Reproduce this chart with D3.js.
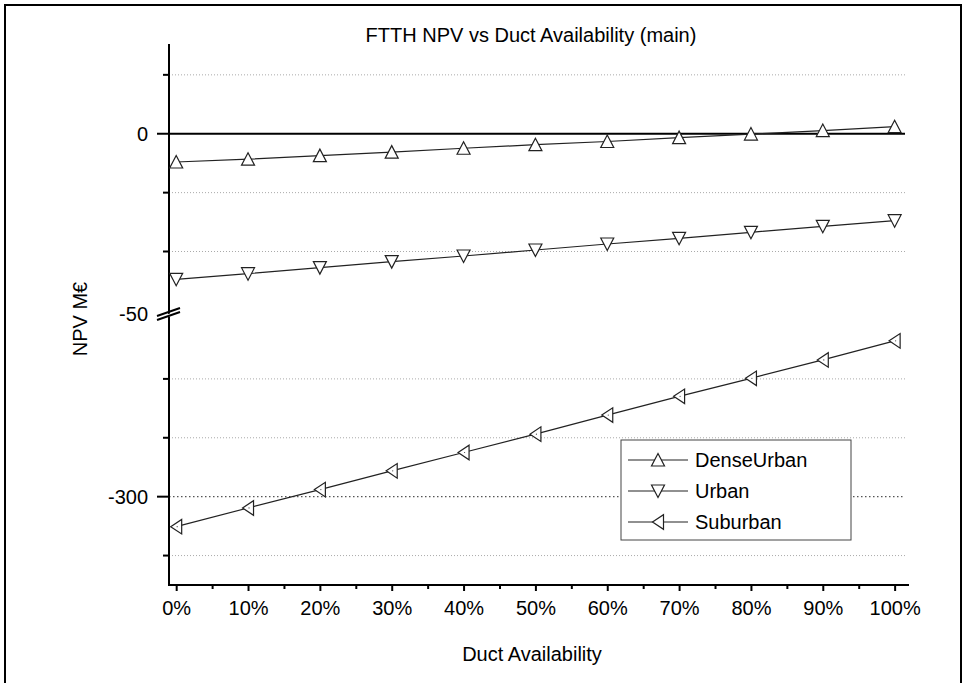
<!DOCTYPE html>
<html>
<head>
<meta charset="utf-8">
<script src="https://cdn.jsdelivr.net/npm/d3@7"></script>
<style>
  body { margin: 0; background: #fff; }
  svg text { font-family: Arial, "Liberation Sans", sans-serif; fill: #000; }
</style>
</head>
<body>
<svg id="chart" width="967" height="683"></svg>
<script>
const ductAvailability = [0, 10, 20, 30, 40, 50, 60, 70, 80, 90, 100]
const denseUrban = [-8.0, -7.2, -6.2, -5.2, -4.1, -3.1, -2.2, -1.1, -0.1, 0.9, 2.0]
const urban = [-41.2, -39.6, -37.9, -36.2, -34.6, -32.9, -31.2, -29.6, -27.9, -26.2, -24.6]
const suburban = [-308.5, -303.2, -298.0, -292.7, -287.5, -282.3, -276.9, -271.6, -266.5, -261.3, -255.9]
const seriesNames = ['DenseUrban', 'Urban', 'Suburban']
const xTickValues = [0, 10, 20, 30, 40, 50, 60, 70, 80, 90, 100]
const yMajorLabels = [0, -50, -300]
const topMinor = [16.67, -16.67, -33.33]
const bottomMinor = [-266.67, -283.33, -316.67]

const svg = d3.select('#chart')

// page frame
svg.append('rect')
  .attr('x', 5).attr('y', 5).attr('width', 956).attr('height', 700)
  .attr('fill', 'none').attr('stroke', '#000').attr('stroke-width', 2)

const axisLeft = 169
const axisRight = 909
const axisTop = 44
const axisBottom = 585
const gridRight = 905
const breakY = 314

const x = d3.scaleLinear().domain([-1, 102]).range([axisLeft, axisRight])
// broken y axis: two segments with the same scale
const yTop = d3.scaleLinear().domain([-50, 25.4]).range([310.4, axisTop])
const yBot = d3.scaleLinear().domain([-325, -250]).range([axisBottom, 320])
const y = (v) => v > -150 ? yTop(v) : yBot(v)

// grid lines
const grid = svg.append('g').attr('class', 'grid')
grid.selectAll('line.minor')
  .data(topMinor.map(yTop).concat(bottomMinor.map(yBot)))
  .join('line').attr('class', 'minor')
  .attr('x1', axisLeft).attr('x2', gridRight)
  .attr('y1', d => d).attr('y2', d => d)
  .attr('stroke', '#aaa').attr('stroke-width', 1).attr('stroke-dasharray', '1,2')
grid.append('line')
  .attr('x1', axisLeft).attr('x2', gridRight)
  .attr('y1', yBot(-300)).attr('y2', yBot(-300))
  .attr('stroke', '#555').attr('stroke-width', 1.3).attr('stroke-dasharray', '1.5,2.5')
grid.append('line')
  .attr('x1', axisLeft).attr('x2', gridRight)
  .attr('y1', yTop(0)).attr('y2', yTop(0))
  .attr('stroke', '#000').attr('stroke-width', 2)

// x axis
const xAxis = svg.append('g').attr('transform', `translate(0,${axisBottom})`)
xAxis.call(d3.axisBottom(x).tickValues(xTickValues).tickFormat(d => d + '%').tickSize(6).tickSizeOuter(0))
xAxis.select('.domain').remove()
xAxis.selectAll('.tick line').attr('stroke-width', 2)
xAxis.selectAll('.tick text').attr('font-size', 20).attr('dy', '1.05em')
const xMinor = svg.append('g').attr('transform', `translate(0,${axisBottom})`)
xMinor.call(d3.axisBottom(x).tickValues(d3.range(5, 100, 10)).tickFormat('').tickSize(4))
xMinor.select('.domain').remove()
xMinor.selectAll('.tick line').attr('stroke-width', 2)

svg.append('line')
  .attr('x1', axisLeft - 1).attr('x2', axisRight)
  .attr('y1', axisBottom).attr('y2', axisBottom)
  .attr('stroke', '#000').attr('stroke-width', 2)

// y axis
svg.append('line')
  .attr('x1', axisLeft).attr('x2', axisLeft)
  .attr('y1', axisTop).attr('y2', axisBottom)
  .attr('stroke', '#000').attr('stroke-width', 2)

const yTicks = svg.append('g').attr('class', 'yticks')
yTicks.selectAll('line.minor')
  .data(topMinor.map(yTop).concat(bottomMinor.map(yBot)))
  .join('line').attr('class', 'minor')
  .attr('x1', axisLeft - 6).attr('x2', axisLeft)
  .attr('y1', d => d).attr('y2', d => d)
  .attr('stroke', '#000').attr('stroke-width', 2)
yTicks.selectAll('line.major')
  .data([yTop(0), yBot(-300)])
  .join('line').attr('class', 'major')
  .attr('x1', axisLeft - 12).attr('x2', axisLeft)
  .attr('y1', d => d).attr('y2', d => d)
  .attr('stroke', '#000').attr('stroke-width', 2)
yTicks.selectAll('text')
  .data(yMajorLabels)
  .join('text')
  .attr('x', 148)
  .attr('y', d => d === -50 ? breakY : y(d))
  .attr('dy', '0.36em')
  .attr('text-anchor', 'end')
  .attr('font-size', 20)
  .text(d => d)

// axis break marks
const brk = svg.append('g')
brk.append('path')
  .attr('d', `M${axisLeft - 12},${breakY + 4} L${axisLeft + 11},${breakY - 4} L${axisLeft + 11},${breakY - 1} L${axisLeft - 12},${breakY + 7} Z`)
  .attr('fill', '#fff')
brk.selectAll('line')
  .data([0, 4])
  .join('line')
  .attr('x1', axisLeft - 12).attr('x2', axisLeft + 11)
  .attr('y1', d => breakY + 2 + d).attr('y2', d => breakY - 6 + d)
  .attr('stroke', '#000').attr('stroke-width', 2)

// axis titles
svg.append('text')
  .attr('x', 531).attr('y', 42)
  .attr('text-anchor', 'middle').attr('font-size', 20)
  .text('FTTH NPV vs Duct Availability (main)')
svg.append('text')
  .attr('x', 532).attr('y', 661)
  .attr('text-anchor', 'middle').attr('font-size', 20)
  .text('Duct Availability')
svg.append('text')
  .attr('transform', 'translate(87,319) rotate(-90)')
  .attr('text-anchor', 'middle').attr('font-size', 20)
  .text('NPV M€')

// markers
const markerPaths = {
  up: 'M0,-6.5L6.5,6L-6.5,6Z',
  down: 'M0,6.5L6.5,-6L-6.5,-6Z',
  left: 'M-5.5,0L5.5,-7.3L5.5,7.3Z'
}
const series = [
  {name: seriesNames[0], values: denseUrban, marker: 'up'},
  {name: seriesNames[1], values: urban, marker: 'down'},
  {name: seriesNames[2], values: suburban, marker: 'left'}
]

const line = d3.line()
  .x(d => x(d.x))
  .y(d => y(d.v))

series.forEach((s) => {
  const pts = s.values.map((v, i) => ({x: ductAvailability[i], v}))
  svg.append('path')
    .datum(pts)
    .attr('d', line)
    .attr('fill', 'none').attr('stroke', '#222').attr('stroke-width', 1.2)
  const g = svg.append('g')
  g.selectAll('path')
    .data(pts)
    .join('path')
    .attr('transform', d => `translate(${x(d.x)},${y(d.v)})`)
    .attr('d', markerPaths[s.marker])
    .attr('fill', '#fff').attr('stroke', '#222').attr('stroke-width', 1.2)
  if (s.marker === 'left') {
    g.selectAll('circle')
      .data(pts)
      .join('circle')
      .attr('cx', d => x(d.x) + 1).attr('cy', d => y(d.v))
      .attr('r', 0.6).attr('fill', '#444')
  }
})

// legend
const legend = svg.append('g').attr('transform', 'translate(621,440)')
legend.append('rect')
  .attr('width', 230).attr('height', 100)
  .attr('fill', '#fff').attr('stroke', '#444').attr('stroke-width', 1)
const rows = legend.selectAll('g.row')
  .data(series)
  .join('g').attr('class', 'row')
  .attr('transform', (d, i) => `translate(0,${20 + i * 31})`)
rows.append('line')
  .attr('x1', 7).attr('x2', 67)
  .attr('stroke', '#222').attr('stroke-width', 1.2)
rows.append('path')
  .attr('transform', 'translate(37,0)')
  .attr('d', d => markerPaths[d.marker])
  .attr('fill', '#fff').attr('stroke', '#222').attr('stroke-width', 1.2)
rows.append('text')
  .attr('x', 74).attr('dy', '0.36em')
  .attr('font-size', 20)
  .text(d => d.name)
</script>
</body>
</html>
